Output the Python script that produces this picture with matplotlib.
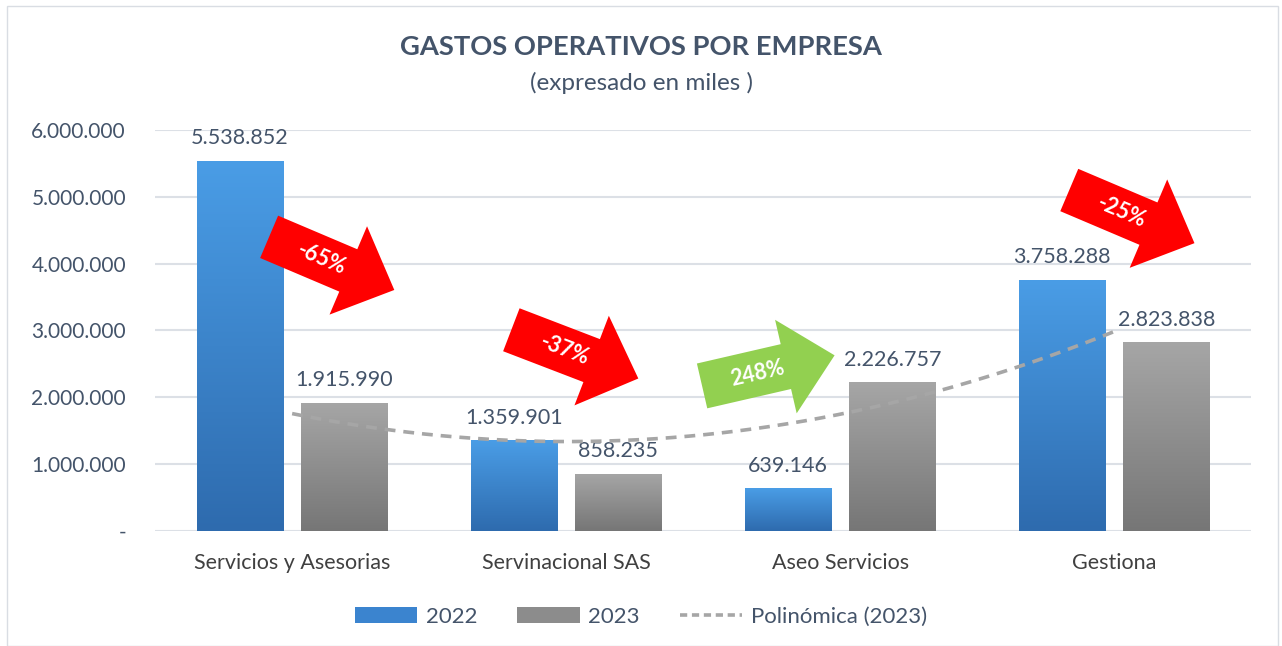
import numpy as np
import matplotlib.pyplot as plt
from matplotlib import transforms
from matplotlib.patches import Polygon, Rectangle
from matplotlib.lines import Line2D
from matplotlib.ticker import FuncFormatter
from matplotlib.colors import LinearSegmentedColormap

empresas = ['Servicios y Asesorias', 'Servinacional SAS', 'Aseo Servicios', 'Gestiona']
gastos_2022 = [5538852, 1359901, 639146, 3758288]
gastos_2023 = [1915990, 858235, 2226757, 2823838]
series = ['2022', '2023', 'Polinómica (2023)']
yticks = [0, 1000000, 2000000, 3000000, 4000000, 5000000, 6000000]

plt.rcParams['font.family'] = ['Lato', 'DejaVu Sans']
txt = '#44546A'

fig = plt.figure(figsize=(12.82, 6.46), dpi=100)
ax = fig.add_axes([0.121, 0.178, 0.855, 0.621])

x = np.arange(len(empresas))
w = 0.314
off = 0.19


def miles(v, pos=None):
    if v == 0:
        return '-'
    return f'{v:,.0f}'.replace(',', '.')


def gradient_bars(xs, vals, top, bottom):
    cmap = LinearSegmentedColormap.from_list('g', [bottom, top])
    bars = ax.bar(xs, vals, w, color='none', edgecolor='none', zorder=2)
    grad = np.linspace(0, 1, 256).reshape(-1, 1)
    for b in bars:
        x0, y0 = b.get_x(), b.get_y()
        im = ax.imshow(grad, cmap=cmap, origin='lower', aspect='auto', zorder=2,
                       extent=[x0, x0 + b.get_width(), y0, y0 + b.get_height()])
        im.set_clip_path(b)
    for b, v in zip(bars, vals):
        ax.annotate(miles(v), (b.get_x() + b.get_width() / 2, v), xytext=(0, 9),
                    textcoords='offset points', ha='center', va='bottom',
                    fontsize=15.5, color=txt)
    return bars


gradient_bars(x - off, gastos_2022, '#4A9DE6', '#2E6BAE')
gradient_bars(x + off, gastos_2023, '#A6A6A6', '#767676')

# linea de tendencia polinomica (orden 2) sobre 2023
coef = np.polyfit(x, gastos_2023, 2)
xt = np.linspace(0, 3, 200)
ax.plot(xt, np.polyval(coef, xt), color='#A6A6A6', lw=2.6, ls=(0, (3, 2.2)), zorder=3)

ax.set_xlim(-0.5, 3.5)
ax.set_ylim(0, 6000000)
ax.set_yticks(yticks)
ax.yaxis.set_major_formatter(FuncFormatter(miles))
ax.set_xticks(x)
ax.set_xticklabels(empresas)
ax.tick_params(axis='y', length=0, pad=21, labelsize=15, labelcolor=txt)
ax.tick_params(axis='x', length=0, pad=16, labelsize=15.5, labelcolor='#404040')
for s in ax.spines.values():
    s.set_visible(False)
ax.yaxis.grid(True, color='#DCE0E6', lw=1.5)
ax.set_axisbelow(True)

# flechas de variacion
variacion = [b / a - 1 for a, b in zip(gastos_2022, gastos_2023)]
flechas = [(-0.084, 4400000, -23), (0.80, 3010000, -21), (1.496, 2170000, 13), (2.836, 5100000, -23)]
L, hl, bw, hw = 136, 50, 46, 96
forma = np.array([(0, bw / 2), (L - hl, bw / 2), (L - hl, hw / 2), (L, 0),
                  (L - hl, -hw / 2), (L - hl, -bw / 2), (0, -bw / 2)], float)
for (xa, ya, ang), v in zip(flechas, variacion):
    a = np.deg2rad(ang)
    rot = np.array([[np.cos(a), -np.sin(a)], [np.sin(a), np.cos(a)]])
    pts = forma @ rot.T / 100
    tr = fig.dpi_scale_trans + transforms.ScaledTranslation(xa, ya, ax.transData)
    color = '#92D050' if v > 0 else '#FF0000'
    ax.add_patch(Polygon(pts, closed=True, fc=color, ec='none', transform=tr, zorder=5,
                         clip_on=False))
    tx, ty = rot @ np.array([57, 0]) / 100
    ax.text(tx, ty, f'{v:.0%}', transform=tr, rotation=ang, rotation_mode='anchor',
            ha='center', va='center', color='white', fontsize=15.5, fontweight='bold', zorder=6)

fig.text(0.5, 1 - 47 / 646, 'GASTOS OPERATIVOS POR EMPRESA', ha='center', va='center',
         fontsize=19.7, fontweight='bold', color=txt)
fig.text(0.5, 1 - 83 / 646, '(expresado en miles )', ha='center', va='center',
         fontsize=17.5, color=txt)

handles = [Rectangle((0, 0), 1, 1, fc='#3B84CF'), Rectangle((0, 0), 1, 1, fc='#8C8C8C'),
           Line2D([], [], color='#A6A6A6', lw=2.6, ls=(0, (2, 1.3)))]
fig.legend(handles, series, loc='center', bbox_to_anchor=(0.5, 1 - 617 / 646), ncol=3,
           frameon=False, fontsize=16, handlelength=2.8, handleheight=0.75,
           columnspacing=1.8, handletextpad=0.4, labelcolor=txt)

fig.patches.append(Rectangle((7 / 1282, 0), 1271 / 1282, 640 / 646, transform=fig.transFigure,
                             fill=False, ec='#D9DDE3', lw=1))

fig.savefig('out.png', dpi=100)
